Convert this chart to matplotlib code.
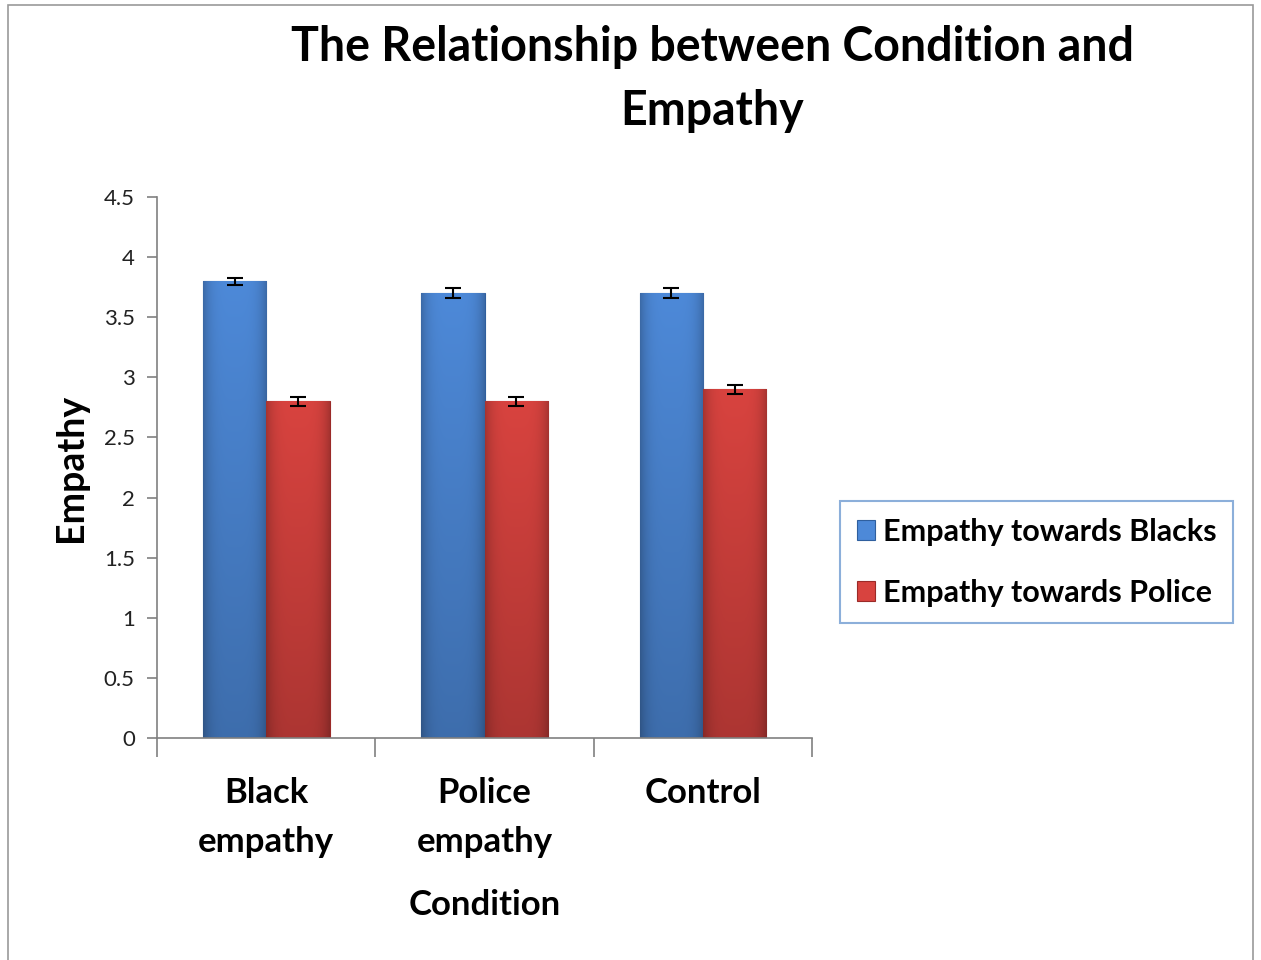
import numpy as np
import matplotlib.pyplot as plt
from matplotlib.colors import to_rgb
from matplotlib.patches import Rectangle

# data
conditions = ["Black\nempathy", "Police\nempathy", "Control"]
blacks = [3.8, 3.7, 3.7]
police = [2.8, 2.8, 2.9]
blacks_err = [0.03, 0.04, 0.04]
police_err = [0.04, 0.04, 0.04]

plt.rcParams["font.family"] = ["Lato", "DejaVu Sans"]

fig = plt.figure(figsize=(12.61, 9.6), dpi=100)
ax = fig.add_axes([0.1245, 0.2313, 0.5195, 0.5635])

# outer chart frame
fig.patches.append(Rectangle((0.006, -0.01), 0.988, 1.005, transform=fig.transFigure,
                             fill=False, edgecolor="#9a9a9a", linewidth=1.2))


def shade_bars(bars, base):
    # soft horizontal/vertical shading like the office-style bars
    rgb = np.array(to_rgb(base))
    nx, ny = 64, 64
    u = np.linspace(-1, 1, nx)
    v = np.linspace(0, 1, ny)[:, None]          # 0 = bottom, 1 = top
    hshade = 1.0 - 0.22 * u ** 4
    vshade = 0.80 + 0.20 * v
    fac = (hshade[None, :] * vshade)[..., None]
    img = np.clip(rgb[None, None, :] * fac, 0, 1)
    for b in bars:
        x0, y0 = b.get_x(), b.get_y()
        im = ax.imshow(img, extent=[x0, x0 + b.get_width(), y0, y0 + b.get_height()],
                       origin="lower", aspect="auto", zorder=b.get_zorder() + 0.1,
                       interpolation="bilinear")
        im.set_clip_path(b)


x = np.arange(len(conditions))
w = 0.29
b1 = ax.bar(x - w / 2, blacks, w, color="#4d89d8", edgecolor="#2f5f9e", linewidth=0.8,
            label="Empathy towards Blacks")
b2 = ax.bar(x + w / 2, police, w, color="#d8433f", edgecolor="#9b2a28", linewidth=0.8,
            label="Empathy towards Police")
shade_bars(b1, "#4d89d8")
shade_bars(b2, "#d8433f")
ax.errorbar(x - w / 2, blacks, yerr=blacks_err, fmt="none", ecolor="black",
            elinewidth=1.5, capsize=6, capthick=1.5, zorder=5)
ax.errorbar(x + w / 2, police, yerr=police_err, fmt="none", ecolor="black",
            elinewidth=1.5, capsize=6, capthick=1.5, zorder=5)

ax.set_xlim(-0.5, 2.5)
ax.set_ylim(0, 4.5)
ax.set_yticks(np.arange(0, 4.51, 0.5))
ax.set_yticklabels(["0", "0.5", "1", "1.5", "2", "2.5", "3", "3.5", "4", "4.5"])
ax.tick_params(axis="y", labelsize=16, colors="#808080", labelcolor="#222222",
               length=7, width=1.2, pad=9)

# category boundaries as major ticks, names as minor ticks
ax.set_xticks([-0.5, 0.5, 1.5, 2.5])
ax.set_xticklabels([])
ax.set_xticks(x, minor=True)
ax.set_xticklabels(conditions, minor=True, fontsize=25, fontweight="bold",
                   linespacing=1.65, va="top")
ax.tick_params(axis="x", which="major", length=14, width=1.2, colors="#808080")
ax.tick_params(axis="x", which="minor", length=0, pad=28)

for s in ["top", "right"]:
    ax.spines[s].set_visible(False)
for s in ["left", "bottom"]:
    ax.spines[s].set_color("#808080")
    ax.spines[s].set_linewidth(1.2)

ax.set_ylabel("Empathy", fontsize=27, fontweight="bold")
ax.yaxis.set_label_coords(-0.105, 0.5)
fig.text(0.3845, 0.047, "Condition", ha="center", va="baseline",
         fontsize=25, fontweight="bold")

fig.text(0.565, 0.974, "The Relationship between Condition and\nEmpathy",
         ha="center", va="top", fontsize=33.5, fontweight="bold", linespacing=1.55)

leg = ax.legend(loc="center left", bbox_to_anchor=(1.043, 0.325),
                prop={"weight": "bold", "size": 22}, frameon=True, fancybox=False,
                handlelength=0.6, handleheight=0.6, handletextpad=0.25,
                labelspacing=1.08, borderpad=0.55, borderaxespad=0)
leg.get_frame().set_edgecolor("#6f9bd1")
leg.get_frame().set_linewidth(1.5)

fig.savefig("out.png", dpi=100)
